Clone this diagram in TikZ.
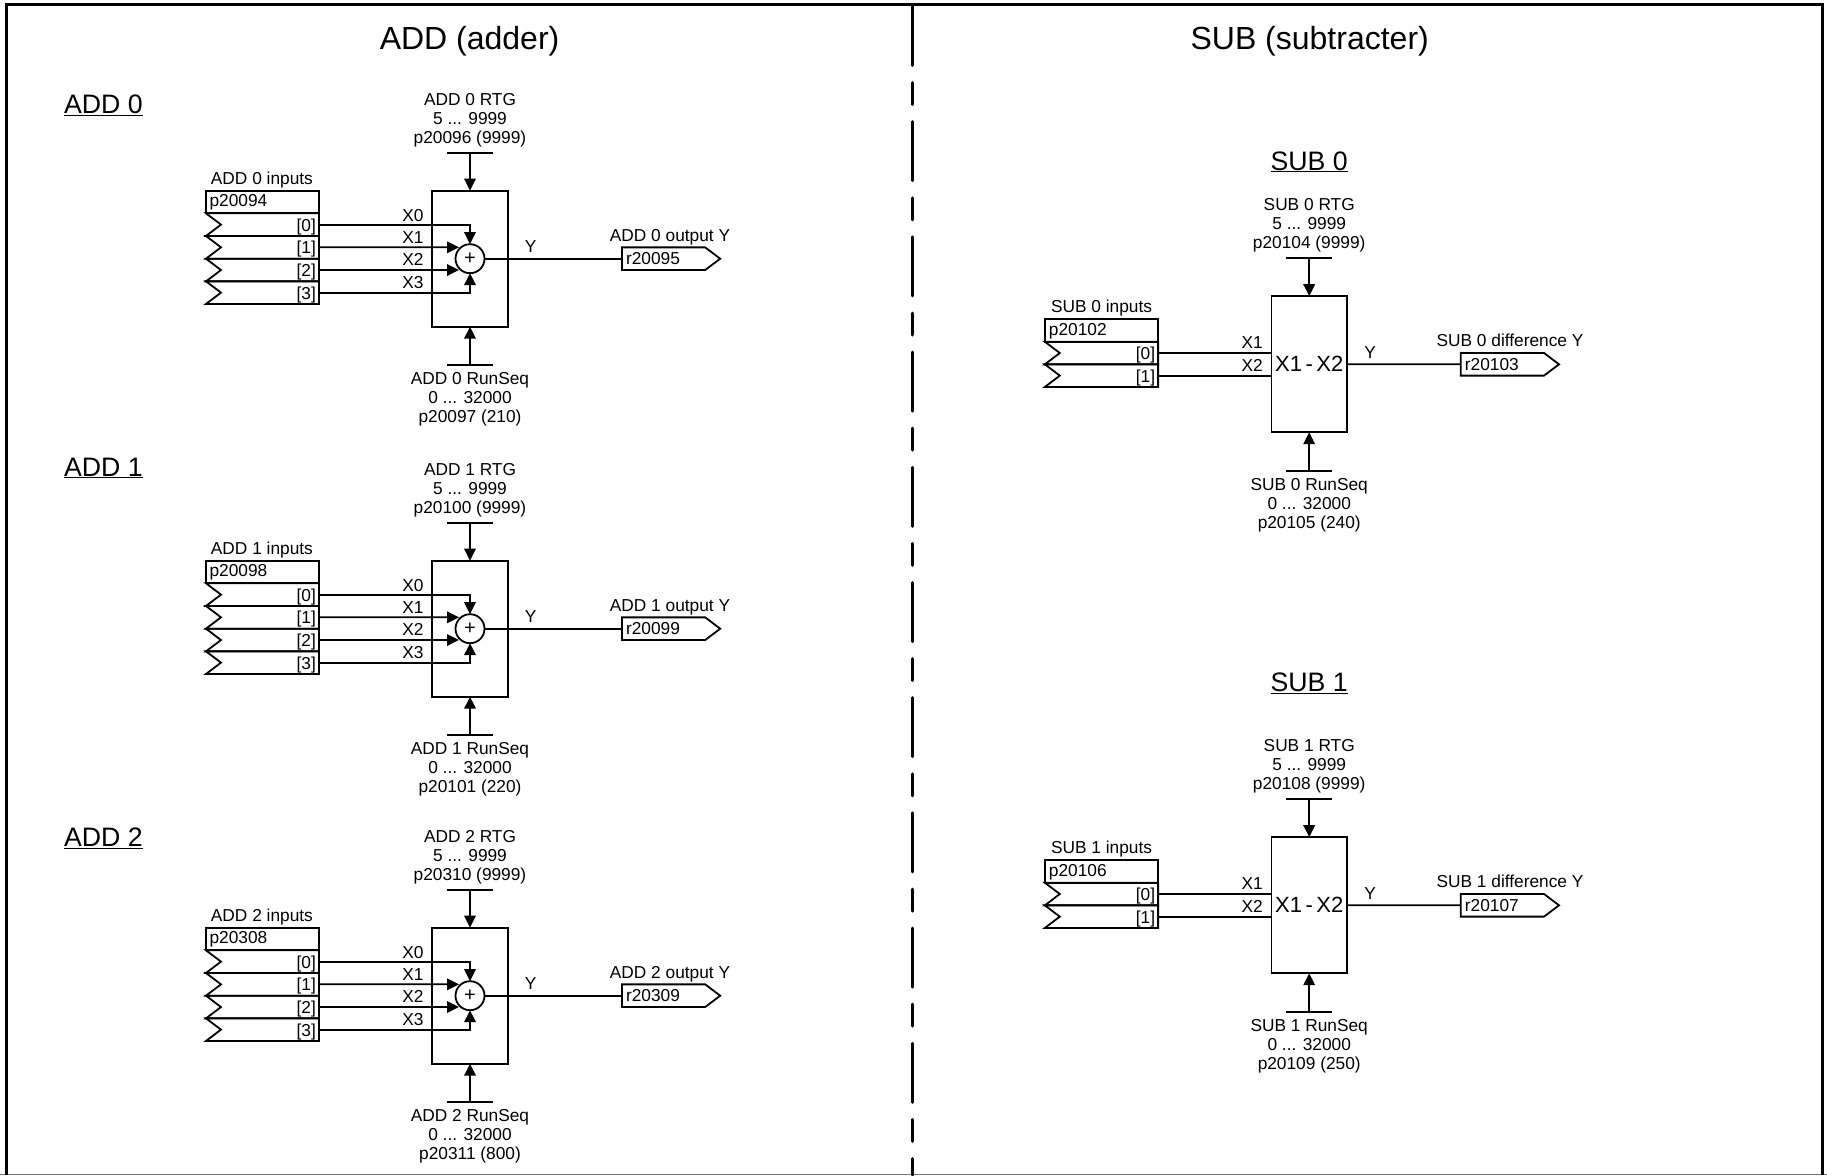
\documentclass[tikz,border=0pt]{standalone}
\usepackage{fontspec}
\setmainfont{Liberation Sans}
\usetikzlibrary{arrows.meta}
\tikzset{
  lbl/.style={inner sep=0pt,outer sep=0pt,anchor=base,font=\fontsize{17.3}{19}\selectfont},
  lblL/.style={lbl,anchor=base west},
  lblR/.style={lbl,anchor=base east},
  stack/.style={inner sep=0pt,outer sep=0pt,anchor=north,align=center,font=\fontsize{17.3}{19}\selectfont},
  head/.style={inner sep=0pt,outer sep=0pt,anchor=base,font=\fontsize{32}{36}\selectfont},
  sect/.style={inner sep=0pt,outer sep=0pt,anchor=base,font=\fontsize{26.7}{30}\selectfont},
  ln/.style={line width=1.8pt,black},
  arr/.style={ln,-{Triangle[length=12pt,width=11.5pt]}},
  blockbox/.style={draw,line width=1.8pt,rectangle,inner sep=0pt,outer sep=0pt,minimum width=75.5pt,minimum height=136pt},
  sumcirc/.style={draw,line width=1.8pt,circle,fill=white,inner sep=0pt,outer sep=0pt,minimum size=29pt,font=\fontsize{20}{22}\selectfont},
  pbox/.style={draw,line width=1.8pt,rectangle,inner sep=0pt,outer sep=0pt,minimum width=113pt,minimum height=22.67pt},
  framel/.style={line width=3pt,black},
}
% #1 node-name, #2 left x, #3 right x, #4 top y, #5 text
\newcommand{\inrow}[5]{%
  \draw[ln,line join=miter] (#3,#4) -- (#2,#4) -- ({#2+15},{#4+11.33}) -- (#2,{#4+22.67}) -- (#3,{#4+22.67}) -- cycle;
  \coordinate (#1) at (#3,{#4+11.33});
  \node[lblR] (#1t) at ({#3-3},{#4+17.7}) {#5};
}
% #1 node-name, #2 left x, #3 centre y, #4 text
\newcommand{\outport}[4]{%
  \draw[ln,line join=miter] (#2,{#3-11.33}) -- ({#2+83.3},{#3-11.33}) -- ({#2+98.3},#3) -- ({#2+83.3},{#3+11.33}) -- (#2,{#3+11.33}) -- cycle;
  \coordinate (#1) at (#2,#3);
  \node[lblL] (#1t) at ({#2+4.2},{#3+5.7}) {#4};
}
% #1 n, #2 y-offset, #3 p inputs, #4 r output, #5 p RTG, #6 p RunSeq (default)
\newcommand{\addblock}[6]{%
\begin{scope}[shift={(0,#2)}]
  \node[stack] (A#1rtg) at (470,93.3) {ADD #1 RTG\\5 ... 9999\\#5 (9999)};
  \node[lbl] (A#1inl) at (261.9,184) {ADD #1 inputs};
  \node[pbox] (A#1p) at (262.45,202) {};
  \node[lblL] (A#1pt) at (209.6,206) {#3};
  \inrow{A#1a}{206}{318.9}{213.3}{[0]}
  \inrow{A#1b}{206}{318.9}{236}{[1]}
  \inrow{A#1c}{206}{318.9}{258.7}{[2]}
  \inrow{A#1d}{206}{318.9}{281.3}{[3]}
  \node[blockbox] (A#1box) at (470,258.7) {};
  \node[sumcirc] (A#1sum) at (470,258.7) {+};
  \coordinate (A#1rtgbar) at (470,152.7);
  \coordinate (A#1seqbar) at (470,364.7);
  \coordinate (A#1tb) at (459,247.3);
  \coordinate (A#1tc) at (459,270);
  \draw[ln] ([xshift=-23pt]A#1rtgbar) -- ([xshift=23pt]A#1rtgbar);
  \draw[ln] ([xshift=-23pt]A#1seqbar) -- ([xshift=23pt]A#1seqbar);
  \draw[arr] (A#1rtgbar) -- (A#1box.north);
  \draw[arr] (A#1seqbar) -- (A#1box.south);
  \draw[arr] (A#1a) -| (A#1sum.north);
  \draw[arr] (A#1b) -- (A#1tb);
  \draw[arr] (A#1c) -- (A#1tc);
  \draw[arr] (A#1d) -| (A#1sum.south);
  \node[lblL] (A#1x0) at (402.3,221) {X0};
  \node[lblL] (A#1x1) at (402.3,243.3) {X1};
  \node[lblL] (A#1x2) at (402.3,265.7) {X2};
  \node[lblL] (A#1x3) at (402.3,288.8) {X3};
  \outport{A#1out}{621.9}{258.7}{#4}
  \draw[ln] (A#1sum.east) -- (A#1out);
  \node[lbl] (A#1y) at (530.7,252.3) {Y};
  \node[lbl] (A#1outl) at (670,241) {ADD #1 output Y};
  \node[stack] (A#1seq) at (470,372.5) {ADD #1 RunSeq\\0 ... 32000\\#6};
\end{scope}}
% #1 n, #2 y-offset, #3 p inputs, #4 r output, #5 p RTG, #6 p RunSeq (default)
\newcommand{\subblock}[6]{%
\begin{scope}[shift={(0,#2)}]
  \node[stack] (S#1rtg) at (1309.2,198.5) {SUB #1 RTG\\5 ... 9999\\#5 (9999)};
  \node[lbl] (S#1inl) at (1101.5,312) {SUB #1 inputs};
  \node[pbox] (S#1p) at (1101.45,330.3) {};
  \node[lblL] (S#1pt) at (1048.9,335) {#3};
  \inrow{S#1a}{1044.8}{1158.1}{341.7}{[0]}
  \inrow{S#1b}{1044.8}{1158.1}{364.3}{[1]}
  \node[blockbox,font=\fontsize{22}{24}\selectfont,text depth=0pt] (S#1box) at (1309.2,364.2) {\spaceskip=3.5pt X1 - X2};
  \coordinate (S#1rtgbar) at (1309.2,258.3);
  \coordinate (S#1seqbar) at (1309.2,470.7);
  \draw[ln] ([xshift=-23pt]S#1rtgbar) -- ([xshift=23pt]S#1rtgbar);
  \draw[ln] ([xshift=-23pt]S#1seqbar) -- ([xshift=23pt]S#1seqbar);
  \draw[arr] (S#1rtgbar) -- (S#1box.north);
  \draw[arr] (S#1seqbar) -- (S#1box.south);
  \draw[ln] (S#1a) -- (S#1a -| S#1box.west);
  \draw[ln] (S#1b) -- (S#1b -| S#1box.west);
  \node[lblL] (S#1x1) at (1241.6,348.7) {X1};
  \node[lblL] (S#1x2) at (1241.6,371.7) {X2};
  \outport{S#1out}{1460.7}{364.3}{#4}
  \draw[ln] (S#1box.east) -- (S#1out);
  \node[lbl] (S#1y) at (1370,358.7) {Y};
  \node[lbl] (S#1outl) at (1510,346) {SUB #1 difference Y};
  \node[stack] (S#1seq) at (1309.2,478) {SUB #1 RunSeq\\0 ... 32000\\#6};
\end{scope}}
\begin{document}
\begin{tikzpicture}[x=1pt,y=-1pt]
  \useasboundingbox (0,0) rectangle (1827,1175);
  \fill[white] (0,0) rectangle (1827,1175);
  % frame
  \coordinate (fTL) at (6,4.5);
  \coordinate (fTR) at (1822,4.5);
  \coordinate (fBL) at (6,1175);
  \coordinate (fBR) at (1822,1175);
  \coordinate (dT) at (912.3,6.5);
  \coordinate (dB) at (912.3,1175);
  \draw[line width=1pt,black!55] (0,1174.6) -- (1827,1174.6);
  \draw[framel,line join=miter] (fBL) -- (fTL) -- (fTR) -- (fBR);
  \draw[framel,line cap=round,dash pattern=on 59pt off 17.1pt on 22pt off 17.1pt] (dT) -- (dB);
  % titles
  \node[head] (tadd) at (469.6,49.5) {ADD (adder)};
  \node[head] (tsub) at (1309.7,49.5) {SUB (subtracter)};
  \node[sect,anchor=base west] (a0t) at (64,113.3) {\underline{ADD 0}};
  \node[sect,anchor=base west] (a1t) at (64,476) {\underline{ADD 1}};
  \node[sect,anchor=base west] (a2t) at (64,846.5) {\underline{ADD 2}};
  \node[sect] (s0t) at (1309.2,170) {\underline{SUB 0}};
  \node[sect] (s1t) at (1309.2,691.2) {\underline{SUB 1}};
  \addblock{0}{0}{p20094}{r20095}{p20096}{p20097 (210)}
  \addblock{1}{370}{p20098}{r20099}{p20100}{p20101 (220)}
  \addblock{2}{737}{p20308}{r20309}{p20310}{p20311 (800)}
  \subblock{0}{0}{p20102}{r20103}{p20104}{p20105 (240)}
  \subblock{1}{541}{p20106}{r20107}{p20108}{p20109 (250)}
\end{tikzpicture}
\end{document}
